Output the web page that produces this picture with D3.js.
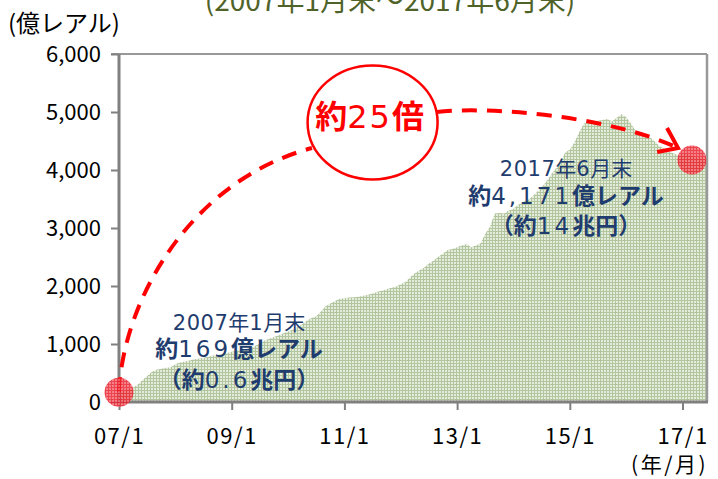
<!DOCTYPE html>
<html><head><meta charset="utf-8">
<script src="https://cdn.jsdelivr.net/npm/d3@7"></script>
<style>body{margin:0;background:#fff}svg{display:block}</style></head>
<body><svg id="c" width="718" height="479"></svg>
<script>
// Monthly values (億レアル), 2007/1 .. 2017/6 (month index 0..125)
const reserves = [
 169,185,210,250,300,380,450,520,555,575,590,598,            // 2007
 650,680,700,715,735,752,765,780,800,812,825,845,            // 2008
 867,880,895,912,930,970,1010,1060,1090,1120,1150,1184,      // 2009
 1215,1250,1290,1340,1400,1450,1480,1560,1650,1700,1740,1780,// 2010
 1790,1800,1805,1815,1830,1850,1870,1900,1920,1945,1970,1990,// 2011
 2030,2070,2150,2220,2270,2320,2390,2440,2505,2560,2620,2640,// 2012
 2670,2700,2724,2670,2700,2736,2900,3020,3250,3260,3250,3300,// 2013
 3330,3400,3450,3480,3540,3620,3700,3800,3920,4020,4130,4300,// 2014
 4350,4480,4650,4800,4820,4830,4850,4860,4880,4840,4900,4960,// 2015
 4910,4800,4680,4650,4600,4570,4500,4420,4370,4320,4290,4260,// 2016
 4270,4280,4240,4220,4200,4171                               // 2017
];
const yTicks = [0,1000,2000,3000,4000,5000,6000];
const xTickMonths = [0,24,48,72,96,120];
const xTickLabels = ["07/1","09/1","11/1","13/1","15/1","17/1"];
const markers = [{m:0, v:169},{m:122, v:4171}];
// dashed arrow: cubic Bezier control points (month index, value)
const arcLeft = [[0,172],[0.85,1759],[15.33,3828],[41.1,4379]];
const arcRight = [[67.72,5000],[79.0,5103],[104.56,4931],[119.04,4379]];
const arrowHead = [[116.7,4724],[119.04,4379],[114.6,4310]];
const ratioCenter = {m:54, v:4820};

const svg = d3.select("#c");
const X0 = 119, X1 = 706, Y0 = 402, Y1 = 54;
const x = d3.scaleLinear().domain([0,125]).range([X0,X1]);
const y = d3.scaleLinear().domain([0,6000]).range([Y0,Y1]);
const JP = "'Noto Sans CJK JP','Noto Sans',sans-serif";
const DV = "'DejaVu Sans',sans-serif";

const defs = svg.append("defs");
const pat = defs.append("pattern").attr("id","grid").attr("width",3).attr("height",3).attr("patternUnits","userSpaceOnUse");
pat.append("rect").attr("width",3).attr("height",3).attr("fill","#e4ecdb");
pat.append("rect").attr("width",3).attr("height",1).attr("fill","#b3c59e");
pat.append("rect").attr("width",1).attr("height",3).attr("fill","#b3c59e");
const pr = defs.append("pattern").attr("id","rgrid").attr("width",3).attr("height",3).attr("patternUnits","userSpaceOnUse");
pr.append("rect").attr("width",3).attr("height",3).attr("fill","#f46a72");
pr.append("rect").attr("width",3).attr("height",1).attr("fill","#ea2430");
pr.append("rect").attr("width",1).attr("height",3).attr("fill","#ea2430");

// title (cut at top, as in the source)
svg.append("text").attr("x",390).attr("y",11).attr("text-anchor","middle")
  .attr("font-family",JP).attr("font-size",28).attr("fill","#4f6228")
  .text("(2007年1月末～2017年6月末)");

// area
const area = d3.area().x((d,i)=>x(i)).y0(y(0)).y1(d=>y(d));
svg.append("path").datum(reserves).attr("d",area).attr("fill","url(#grid)");

// frame
svg.append("line").attr("x1",X0-8).attr("x2",X1+1).attr("y1",Y1).attr("y2",Y1).attr("stroke","#999").attr("stroke-width",2);
svg.append("line").attr("x1",X1+1).attr("x2",X1+1).attr("y1",Y1).attr("y2",Y0).attr("stroke","#999").attr("stroke-width",2.5);

// y axis
const yAxis = svg.append("g").attr("transform",`translate(${X0},0)`)
  .call(d3.axisLeft(y).tickValues(yTicks).tickSize(8).tickPadding(10).tickFormat(d3.format(",")));
yAxis.select(".domain").attr("stroke","#808080").attr("stroke-width",3).attr("d",`M0,${Y1}V${Y0+2}`);
yAxis.selectAll(".tick line").attr("stroke","#808080").attr("stroke-width",2);
yAxis.selectAll("text").attr("font-family",JP).attr("font-size",22).attr("fill","#000");

// x axis
const xAxis = svg.append("g").attr("transform",`translate(0,${Y0})`)
  .call(d3.axisBottom(x).tickValues(xTickMonths).tickSize(8).tickPadding(18).tickFormat((d,i)=>xTickLabels[i]));
xAxis.select(".domain").attr("stroke","#808080").attr("stroke-width",3).attr("d",`M${X0},0H${X1+2}`);
xAxis.selectAll(".tick line").attr("stroke","#808080").attr("stroke-width",2);
xAxis.selectAll("text").attr("font-family",JP).attr("font-size",22).attr("letter-spacing",1.5).attr("fill","#000");

svg.append("text").attr("x",X1+2).attr("y",472).attr("text-anchor","end")
  .attr("font-family",JP).attr("font-size",21).attr("letter-spacing",2.5).text("(年/月)");
svg.append("text").attr("x",8).attr("y",32)
  .attr("font-family",JP).attr("font-size",24).text("(億レアル)");

// dashed arrow
const bez = pts => { const p = d3.path(); p.moveTo(x(pts[0][0]),y(pts[0][1]));
  p.bezierCurveTo(x(pts[1][0]),y(pts[1][1]),x(pts[2][0]),y(pts[2][1]),x(pts[3][0]),y(pts[3][1])); return p.toString(); };
const dashStyle = s => s.attr("fill","none").attr("stroke","#ff0000").attr("stroke-width",4)
  .attr("stroke-dasharray","15,10").attr("stroke-linecap","butt");
svg.append("path").attr("d",bez(arcLeft)).call(dashStyle);
svg.append("path").attr("d",bez(arcRight)).call(dashStyle);
svg.append("path").datum(arrowHead).attr("d",d3.line().x(d=>x(d[0])).y(d=>y(d[1])))
  .attr("fill","none").attr("stroke","#ff0000").attr("stroke-width",4).attr("stroke-linejoin","miter");

// markers
svg.selectAll("circle.mk").data(markers).join("circle").attr("class","mk")
  .attr("cx",d=>x(d.m)).attr("cy",d=>y(d.v)).attr("r",14.5).attr("fill","url(#rgrid)").attr("opacity",0.85);

// ratio circle
const cx = x(ratioCenter.m), cy = y(ratioCenter.v);
svg.append("ellipse").attr("cx",cx).attr("cy",cy).attr("rx",65).attr("ry",57)
  .attr("fill","#fff").attr("stroke","#ff0000").attr("stroke-width",2.5);
const rt = svg.append("text").attr("x",cx-3).attr("y",cy+6).attr("text-anchor","middle")
  .attr("fill","#ff0000").attr("font-size",32);
rt.append("tspan").attr("font-family",JP).attr("font-weight","bold").text("約");
rt.append("tspan").attr("font-family",DV).attr("letter-spacing",2).text("25");
rt.append("tspan").attr("font-family",JP).attr("font-weight","bold").text("倍");

// annotations
const blue = "#1f3c6e";
function note(cxp, base, parts){
  parts.forEach((p,i)=>{
    const t = svg.append("text").attr("x",cxp).attr("y",base[i]).attr("text-anchor","middle")
      .attr("fill",blue).attr("font-size",i===0?21:23);
    p.forEach(seg=>{
      const s = t.append("tspan").text(seg[0]);
      if(seg[1]==="b") s.attr("font-family",JP).attr("font-weight","bold");
      else if(seg[1]==="n") s.attr("font-family",DV).attr("letter-spacing",3);
      else if(seg[1]==="d") s.attr("font-family",DV).attr("letter-spacing",0.5);
      else s.attr("font-family",JP);
    });
  });
}
note(239,[330,357,388],[
  [["2007","d"],["年","j"],["1","d"],["月末","j"]],
  [["約","b"],["169","n"],["億レアル","b"]],
  [["（","b"],["約","b"],["0.6","n"],["兆円","b"],["）","b"]]
]);
note(566,[176,204,234],[
  [["2017","d"],["年","j"],["6","d"],["月末","j"]],
  [["約","b"],["4,171","n"],["億レアル","b"]],
  [["（","b"],["約","b"],["14","n"],["兆円","b"],["）","b"]]
]);
</script></body></html>
